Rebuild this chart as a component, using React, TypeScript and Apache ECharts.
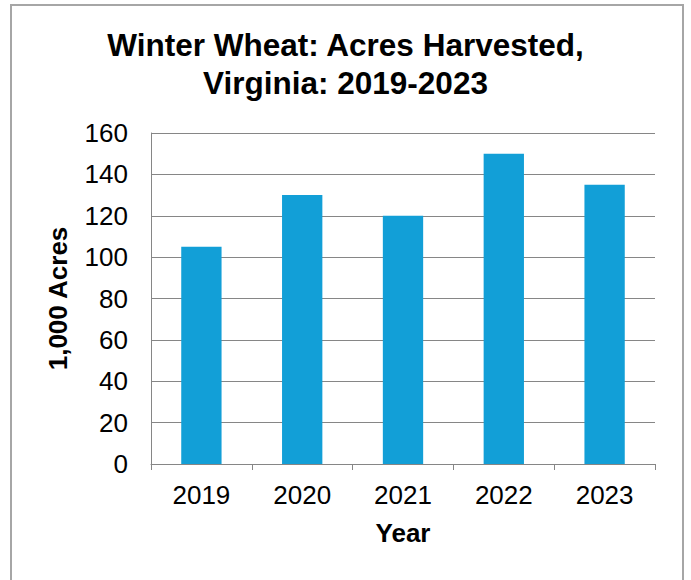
import React, { useEffect, useRef } from "react";
import * as echarts from "echarts";

const years = ["2019", "2020", "2021", "2022", "2023"];
const acres = [105, 130, 120, 150, 135];
const titleLines = ["Winter Wheat: Acres Harvested,", "Virginia: 2019-2023"];

export default function App() {
  const ref = useRef<HTMLDivElement>(null);
  useEffect(() => {
    if (!ref.current) return;
    const chart = echarts.init(ref.current, null, { renderer: "svg" });
    const font = "'Liberation Sans', Arial, sans-serif";
    chart.setOption({
      animation: false,
      backgroundColor: "#ffffff",
      textStyle: { fontFamily: font },
      title: {
        text: titleLines.join("\n"),
        left: "center",
        top: 21,
        textStyle: { fontFamily: font, fontSize: 31.5, fontWeight: "bold", color: "#000", lineHeight: 38 },
      },
      graphic: [
        {
          type: "rect",
          shape: { x: 11, y: 5, width: 672, height: 620 },
          style: { fill: "none", stroke: "#a6a6a6", lineWidth: 2 },
          silent: true,
        },
      ],
      grid: { left: 151, right: 36, top: 133, bottom: 116, containLabel: false },
      xAxis: {
        type: "category",
        data: years,
        name: "Year",
        nameLocation: "middle",
        nameGap: 56,
        nameTextStyle: { fontFamily: font, fontSize: 26, fontWeight: "bold", color: "#000" },
        axisLine: { show: true, lineStyle: { color: "#868686", width: 1 } },
        axisTick: { show: true, alignWithLabel: false, length: 6, lineStyle: { color: "#868686" } },
        axisLabel: { fontFamily: font, fontSize: 26, color: "#000", margin: 18 },
      },
      yAxis: {
        type: "value",
        min: 0,
        max: 160,
        interval: 20,
        name: "1,000 Acres",
        nameLocation: "middle",
        nameGap: 80,
        nameTextStyle: { fontFamily: font, fontSize: 26, fontWeight: "bold", color: "#000" },
        axisLine: { show: true, lineStyle: { color: "#868686", width: 1 } },
        axisTick: { show: false },
        axisLabel: { fontFamily: font, fontSize: 26, color: "#000", margin: 23 },
        splitLine: { show: true, lineStyle: { color: "#868686", width: 1 } },
      },
      series: [
        {
          type: "bar",
          data: acres,
          barWidth: "40%",
          itemStyle: { color: "#129FD7" },
        },
      ],
    });
    return () => chart.dispose();
  }, []);
  return (
    <div
      ref={ref}
      style={{ position: "absolute", left: 0, top: 0, width: 691, height: 580 }}
    />
  );
}
